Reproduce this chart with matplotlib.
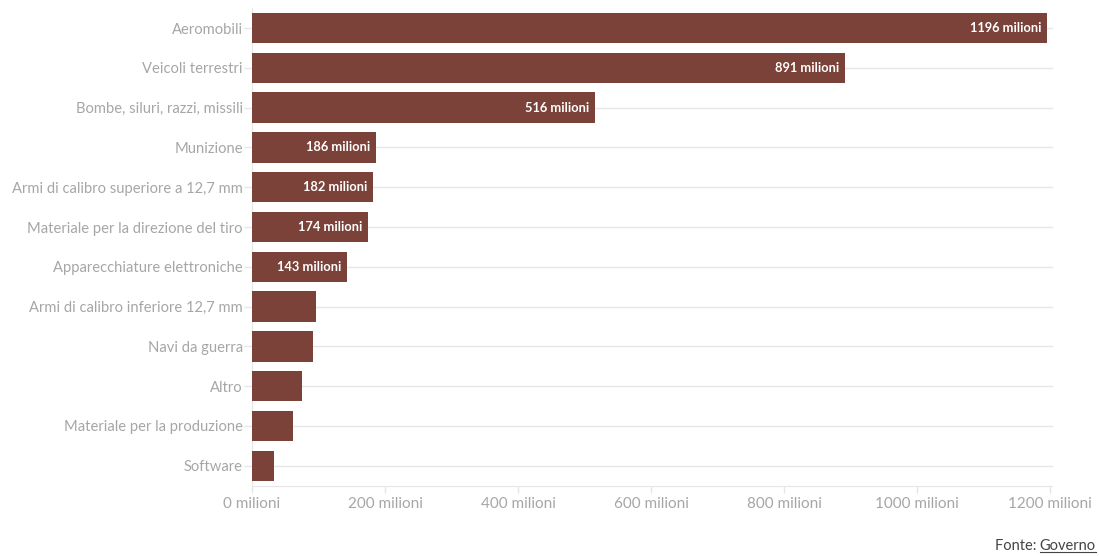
import matplotlib
matplotlib.use("Agg")
import matplotlib.pyplot as plt

categories = [
    "Aeromobili",
    "Veicoli terrestri",
    "Bombe, siluri, razzi, missili",
    "Munizione",
    "Armi di calibro superiore a 12,7 mm",
    "Materiale per la direzione del tiro",
    "Apparecchiature elettroniche",
    "Armi di calibro inferiore 12,7 mm",
    "Navi da guerra",
    "Altro",
    "Materiale per la produzione",
    "Software",
]
values = [1196, 891, 516, 186, 182, 174, 143, 96, 92, 75, 62, 33]
labelled = [True, True, True, True, True, True, True, False, False, False, False, False]
xticks = [0, 200, 400, 600, 800, 1000, 1200]
xtick_labels = [f"{t} milioni" for t in xticks]

BAR = "#7a4238"
GRID = "#e6e6e6"
TICK_TXT = "#a6a6a6"
FONT = "Lato"

plt.rcParams["font.family"] = [FONT, "DejaVu Sans"]

fig = plt.figure(figsize=(10.99, 5.56), dpi=100)
ax = fig.add_axes([252 / 1099, 1 - 485.7 / 556, (1050 - 252) / 1099, (485.7 - 8.1) / 556])

ypos = list(range(len(categories)))
ax.barh(ypos, values, height=0.76, color=BAR, zorder=3)

ax.set_xlim(0, 1200)
ax.set_ylim(len(categories) - 0.5, -0.5)

# light horizontal guides through every category
for y in ypos:
    ax.plot([0, 1203], [y, y], color=GRID, lw=1, zorder=1, clip_on=False)

ax.set_yticks(ypos)
ax.set_yticklabels(categories, fontsize=10.6, color=TICK_TXT)
ax.set_xticks(xticks)
ax.set_xticklabels(xtick_labels, fontsize=11, color=TICK_TXT)
ax.tick_params(axis="y", length=5.5, width=1, color=GRID, pad=1)
ax.tick_params(axis="x", length=5, width=1, color=GRID, pad=3)

for side in ["top", "right"]:
    ax.spines[side].set_visible(False)
ax.spines["left"].set_color(GRID)
ax.spines["bottom"].set_color(GRID)
ax.spines["bottom"].set_bounds(0, 1203)

for y, v, show in zip(ypos, values, labelled):
    if show:
        ax.annotate(f"{v} milioni", xy=(v, y), xytext=(-4, 0), textcoords="offset points",
                    ha="right", va="center", fontsize=9.3, fontweight="bold",
                    color="white", zorder=4)

# source line with underlined link text
src_link = fig.text(1096 / 1099, 1 - 546 / 556, "Governo", ha="right", va="center",
                    fontsize=10.5, color="#444444")
fig.canvas.draw()
bb = src_link.get_window_extent()
fig.text(bb.x0 / fig.bbox.width, 1 - 546 / 556, "Fonte: ", ha="right", va="center",
         fontsize=10.5, color="#444444")
fig.add_artist(plt.Line2D([bb.x0 / fig.bbox.width, bb.x1 / fig.bbox.width],
                          [(bb.y0 + 1) / fig.bbox.height] * 2,
                          color="#444444", lw=0.8))

fig.savefig("out.png", dpi=100, facecolor="white")
